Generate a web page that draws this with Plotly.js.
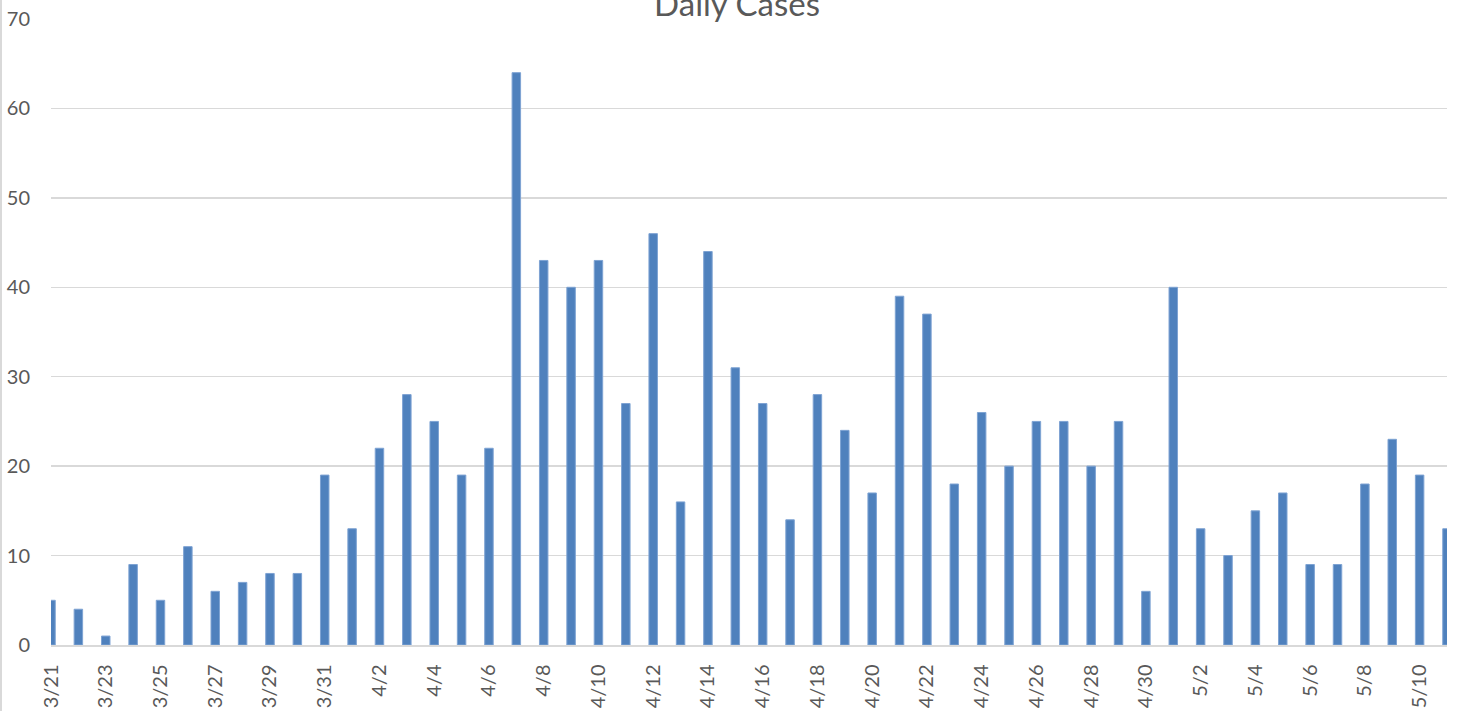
<!DOCTYPE html>
<html>
<head>
<meta charset="utf-8">
<script src="https://cdn.plot.ly/plotly-3.0.1.min.js"></script>
<style>
  html, body { margin: 0; padding: 0; background: #fff; }
  #chart { width: 1458px; height: 711px; }
</style>
</head>
<body>
<div id="chart"></div>
<script>
const dates = [
  "3/21","3/22","3/23","3/24","3/25","3/26","3/27","3/28","3/29","3/30","3/31",
  "4/1","4/2","4/3","4/4","4/5","4/6","4/7","4/8","4/9","4/10",
  "4/11","4/12","4/13","4/14","4/15","4/16","4/17","4/18","4/19","4/20",
  "4/21","4/22","4/23","4/24","4/25","4/26","4/27","4/28","4/29","4/30",
  "5/1","5/2","5/3","5/4","5/5","5/6","5/7","5/8","5/9","5/10","5/11"
];
const dailyCases = [
  5,4,1,9,5,11,6,7,8,8,19,
  13,22,28,25,19,22,64,43,40,43,
  27,46,16,44,31,27,14,28,24,17,
  39,37,18,26,20,25,25,20,25,6,
  40,13,10,15,17,9,9,18,23,19,13
];
const yTicks = [0,10,20,30,40,50,60,70];
const xTickLabels = dates.filter((d, i) => i % 2 === 0);

const W = 1458, H = 711;
const M = { l: 51, r: 11, t: 19, b: 66 };
const plotW = W - M.l - M.r;

const trace = {
  type: 'bar',
  x: dates,
  y: dailyCases,
  width: 0.31,
  marker: { color: '#4f81bd', line: { color: '#7ea3d3', width: 1 } },
  hoverinfo: 'x+y'
};

const layout = {
  width: W, height: H,
  margin: M,
  paper_bgcolor: '#ffffff',
  plot_bgcolor: '#ffffff',
  showlegend: false,
  font: { family: 'Lato, "Open Sans", sans-serif', color: '#595959', size: 20 },
  title: {
    text: 'Daily Cases',
    font: { family: 'Lato, "Open Sans", sans-serif', size: 33, color: '#595959' },
    xref: 'container', x: 737 / W, xanchor: 'center',
    yref: 'container', y: 1 - 4 / H, yanchor: 'middle'
  },
  xaxis: {
    type: 'category',
    categoryorder: 'array',
    categoryarray: dates,
    range: [0, dates.length - 1],
    tickmode: 'array',
    tickvals: xTickLabels,
    ticktext: xTickLabels,
    tickangle: -90,
    ticks: '',
    showgrid: false,
    showline: true,
    linecolor: '#d9d9d9',
    linewidth: 1.5,
    zeroline: false,
    ticklabelstandoff: 10,
    tickfont: { size: 20, color: '#595959' }
  },
  yaxis: {
    range: [0, 70],
    tickmode: 'array',
    tickvals: yTicks,
    ticktext: yTicks.map(String),
    showgrid: true,
    gridcolor: '#d9d9d9',
    gridwidth: 1.3,
    zeroline: false,
    showline: false,
    ticks: '',
    ticklabelstandoff: 20,
    tickfont: { size: 20, color: '#595959' }
  },
  shapes: [{
    type: 'line', xref: 'paper', yref: 'paper',
    x0: -(M.l - 1) / plotW, x1: -(M.l - 1) / plotW,
    y0: -M.b / (H - M.t - M.b), y1: 1 + M.t / (H - M.t - M.b),
    line: { color: '#d9d9d9', width: 2 }
  }]
};

Plotly.newPlot('chart', [trace], layout, { displayModeBar: false, staticPlot: true });
</script>
</body>
</html>
